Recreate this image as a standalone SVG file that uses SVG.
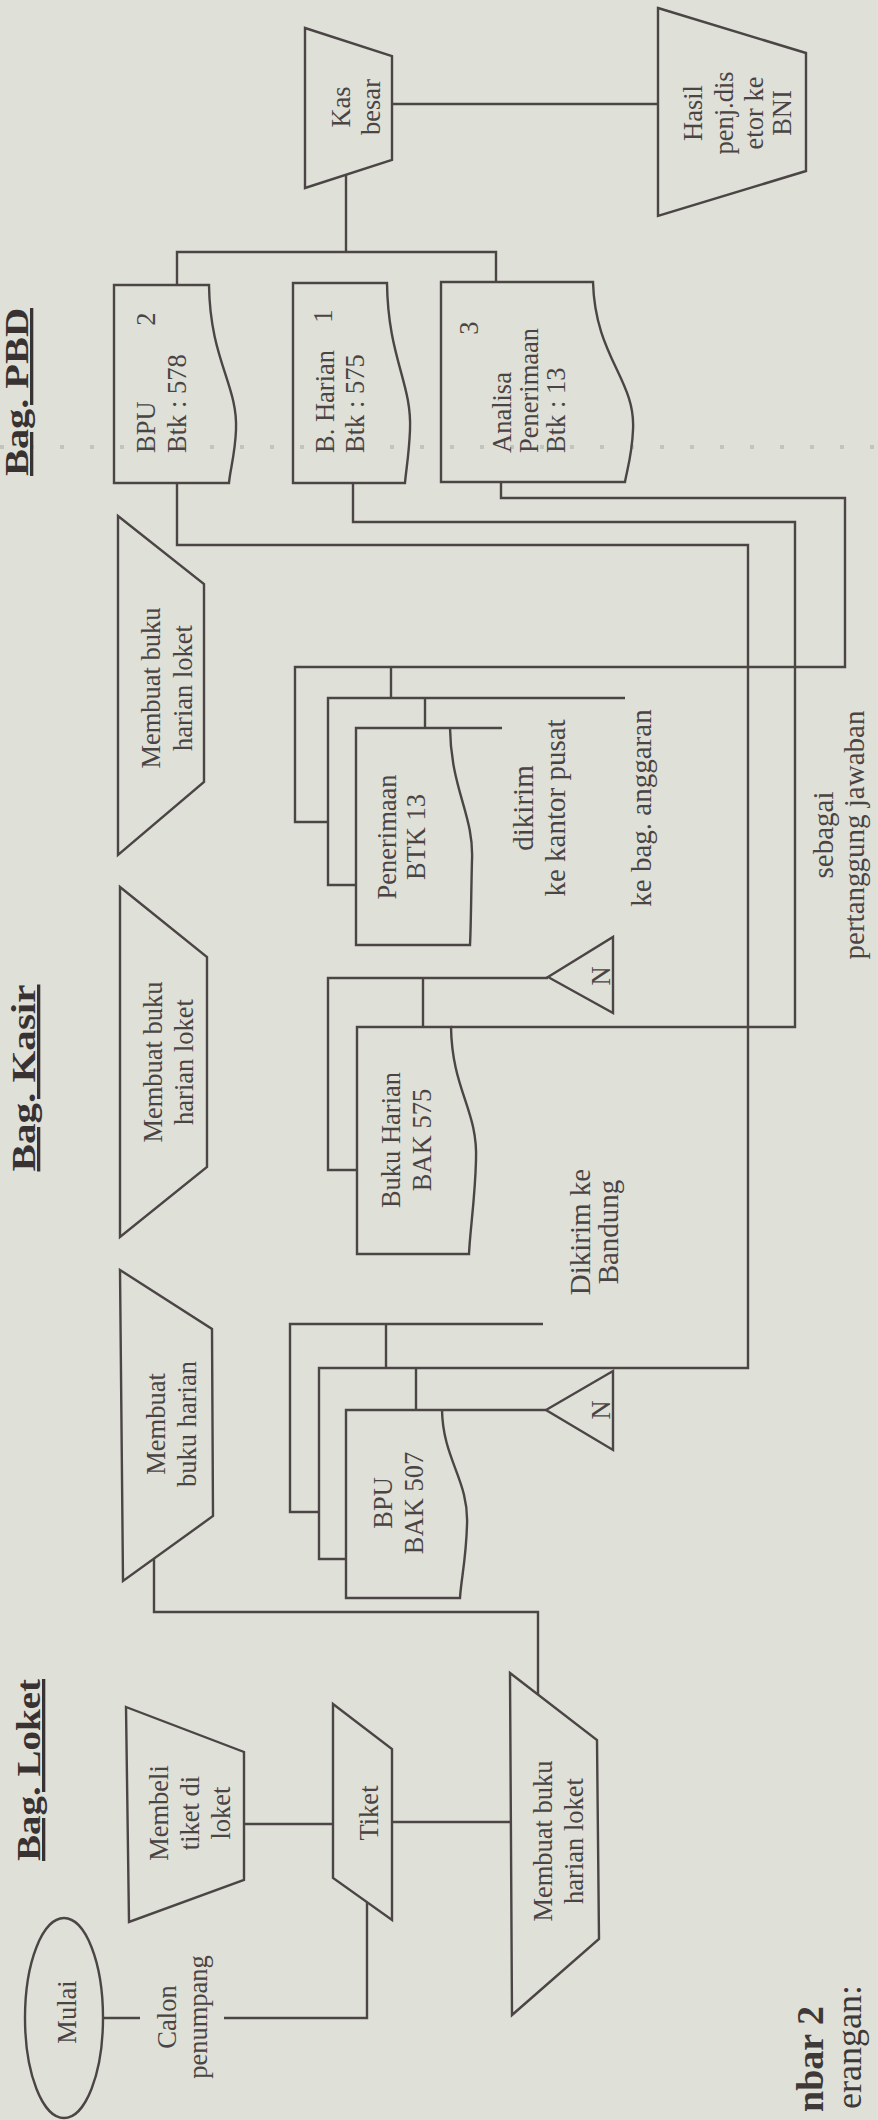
<svg xmlns="http://www.w3.org/2000/svg" width="878" height="2120" viewBox="0 0 878 2120">
<style>
.bg{fill:#dfe0d7}
.s{fill:none;stroke:#4b4545;stroke-width:2.4;stroke-linejoin:miter}
.c{fill:none;stroke:#4b4545;stroke-width:2.4}
.t{font-family:"Liberation Serif","Times New Roman",serif;font-size:26.5px;fill:#4a4444;text-anchor:middle}
.o{font-size:29px}
.st{text-anchor:start}
.h{font-family:"Liberation Serif","Times New Roman",serif;font-size:33px;font-weight:bold;fill:#383232;text-anchor:middle;text-decoration:underline}
.big{font-family:"Liberation Serif","Times New Roman",serif;fill:#3e3838;text-anchor:end}
</style>
<rect class="bg" x="0" y="0" width="878" height="2120"/>
<line x1="0" y1="447" x2="878" y2="447" stroke="#b9b9b4" stroke-width="4" stroke-dasharray="4 26" opacity="0.7"/>

<!-- titles -->
<g id="title-pbd"><text class="h" transform="translate(28,392) rotate(-90)" textLength="168" lengthAdjust="spacingAndGlyphs">Bag. PBD</text></g>
<g id="title-kasir"><text class="h" transform="translate(35,1078) rotate(-90)" textLength="187" lengthAdjust="spacingAndGlyphs">Bag. Kasir</text></g>
<g id="title-loket"><text class="h" transform="translate(40,1770) rotate(-90)" textLength="182" lengthAdjust="spacingAndGlyphs">Bag. Loket</text></g>

<!-- connectors -->
<g id="connectors">
<polyline class="c" points="392,104 658,104"/>
<polyline class="c" points="346,175 346,252"/>
<polyline class="c" points="177,285 177,252 496,252 496,282"/>
<polyline class="c" points="177,483 177,545 748,545 748,1368 416,1368"/>
<polyline class="c" points="353,483 353,522 795,522 795,1027 451,1027"/>
<polyline class="c" points="501,482 501,498 845,498 845,667 391,667"/>
<polyline class="c" points="154,1559 154,1612 538,1612 538,1695"/>
<polyline class="c" points="244,1824 333,1824"/>
<polyline class="c" points="392,1822 510,1822"/>
<polyline class="c" points="104,2018 140,2018"/>
<polyline class="c" points="224,2018 367,2018 367,1902"/>
</g>

<!-- PBD -->
<g id="kas-besar">
<polygon class="s" points="305,28 392,56 392,160 305,188"/>
<text class="t" transform="translate(350,107) rotate(-90)">Kas<tspan x="0" dy="30">besar</tspan></text>
</g>
<g id="hasil">
<polygon class="s" points="658,8 806,53 806,171 658,216"/>
<text class="t" transform="translate(702,113) rotate(-90)">Hasil<tspan x="0" dy="31">penj.dis</tspan><tspan x="0" dy="30">etor ke</tspan><tspan x="0" dy="28">BNI</tspan></text>
</g>
<g id="bpu-578">
<path class="s" d="M209,285 L114,285 L114,483 L229,483 C230,470 235,455 236,430 C238,385 210,360 209,285 Z"/>
<text class="t st" transform="translate(155,453) rotate(-90)">BPU<tspan x="0" dy="31">Btk : 578</tspan></text>
<text class="t" transform="translate(155,319) rotate(-90)">2</text>
</g>
<g id="bharian-575">
<path class="s" d="M387,283 L293,283 L293,483 L405,483 C406,470 409,455 410,430 C412,383 388,358 387,283 Z"/>
<text class="t st" transform="translate(334,453) rotate(-90)">B. Harian<tspan x="0" dy="30">Btk : 575</tspan></text>
<text class="t" transform="translate(332,316) rotate(-90)">1</text>
</g>
<g id="analisa-13">
<path class="s" d="M593,282 L441,282 L441,482 L625,482 C627,470 632,455 633,430 C636,380 595,357 593,282 Z"/>
<text class="t st" transform="translate(511,453) rotate(-90)">Analisa<tspan x="0" dy="27">Penerimaan</tspan><tspan x="0" dy="27">Btk : 13</tspan></text>
<text class="t" transform="translate(478,328) rotate(-90)">3</text>
</g>

<!-- Kasir -->
<g id="kasir-buku-loket-a">
<polygon class="s" points="118,516 204,584 204,782 118,855"/>
<text class="t" transform="translate(160,688) rotate(-90)">Membuat buku<tspan x="0" dy="32">harian loket</tspan></text>
</g>
<g id="kasir-buku-loket-b">
<polygon class="s" points="120,887 207,957 207,1167 120,1237"/>
<text class="t" transform="translate(162,1062) rotate(-90)">Membuat buku<tspan x="0" dy="31">harian loket</tspan></text>
</g>
<g id="kasir-buku-harian">
<polygon class="s" points="120,1270 212,1329 213,1516 123,1581"/>
<text class="t" transform="translate(165,1424) rotate(-90)">Membuat<tspan x="0" dy="31">buku harian</tspan></text>
</g>

<g id="penerimaan-btk13">
<polyline class="s" points="625,698 328,698 328,885 356,885"/>
<polyline class="s" points="391,667 295,667 295,822 328,822"/>
<line class="s" x1="391" y1="667" x2="391" y2="698"/>
<line class="s" x1="425" y1="698" x2="425" y2="728"/>
<path class="s" d="M502,728 L356,728 L356,945 L470,945 C471,925 471,900 472,860 C474,815 451,790 450,728"/>
<text class="t" transform="translate(396,837) rotate(-90)">Penerimaan<tspan x="0" dy="29">BTK 13</tspan></text>
</g>
<g id="label-kantor-pusat"><text class="t o" transform="translate(533,808) rotate(-90)">dikirim<tspan x="0" dy="32">ke kantor pusat</tspan></text></g>
<g id="label-anggaran"><text class="t o" transform="translate(651,808) rotate(-90)">ke bag. anggaran</text></g>
<g id="label-pertanggungjawaban"><text class="t o" transform="translate(833,835) rotate(-90)">sebagai<tspan x="0" dy="31">pertanggung jawaban</tspan></text></g>

<g id="buku-harian-575">
<polyline class="s" points="548,978 328,978 328,1170 357,1170"/>
<line class="s" x1="423" y1="978" x2="423" y2="1027"/>
<path class="s" d="M451,1027 L357,1027 L357,1254 L469,1254 C470,1230 475,1200 476,1160 C478,1110 452,1090 451,1027 Z"/>
<text class="t" transform="translate(400,1140) rotate(-90)">Buku Harian<tspan x="0" dy="31">BAK 575</tspan></text>
</g>
<g id="arsip-n-1">
<polygon class="s" points="548,977 613,937 613,1013"/>
<text class="t" transform="translate(610,976) rotate(-90)">N</text>
</g>

<g id="bpu-507">
<polyline class="s" points="543,1324 290,1324 290,1512 319,1512"/>
<polyline class="s" points="416,1368 319,1368 319,1559 346,1559"/>
<line class="s" x1="386" y1="1324" x2="386" y2="1368"/>
<line class="s" x1="416" y1="1368" x2="416" y2="1410"/>
<path class="s" d="M546,1410 L346,1410 L346,1598 L460,1598 C461,1580 466,1560 467,1525 C469,1480 443,1460 442,1410"/>
<text class="t" transform="translate(392,1503) rotate(-90)">BPU<tspan x="0" dy="31">BAK 507</tspan></text>
</g>
<g id="arsip-n-2">
<polygon class="s" points="546,1410 613,1371 613,1450"/>
<text class="t" transform="translate(610,1410) rotate(-90)">N</text>
</g>
<g id="label-bandung"><text class="t o" transform="translate(590,1232) rotate(-90)">Dikirim ke<tspan x="0" dy="28">Bandung</tspan></text></g>

<!-- Loket -->
<g id="mulai">
<ellipse class="s" cx="64" cy="2018" rx="39" ry="100"/>
<text class="t" transform="translate(76,2012) rotate(-90)">Mulai</text>
</g>
<g id="calon"><text class="t" transform="translate(176,2017) rotate(-90)">Calon<tspan x="0" dy="31">penumpang</tspan></text></g>
<g id="membeli-tiket">
<polygon class="s" points="126,1707 244,1752 244,1880 129,1922"/>
<text class="t" transform="translate(168,1813) rotate(-90)">Membeli<tspan x="0" dy="31">tiket di</tspan><tspan x="0" dy="31">loket</tspan></text>
</g>
<g id="tiket">
<polygon class="s" points="333,1704 392,1749 392,1920 333,1878"/>
<text class="t" transform="translate(378,1813) rotate(-90)">Tiket</text>
</g>
<g id="loket-buku-harian">
<polygon class="s" points="510,1673 597,1740 599,1939 512,2015"/>
<text class="t" transform="translate(552,1841) rotate(-90)">Membuat buku<tspan x="0" dy="31">harian loket</tspan></text>
</g>

<g id="caption">
<text class="big" font-size="38" font-weight="bold" transform="translate(823,2006) rotate(-90)">nbar 2</text>
<text class="big" font-size="36" transform="translate(861,1985) rotate(-90)">erangan:</text>
</g>
</svg>
